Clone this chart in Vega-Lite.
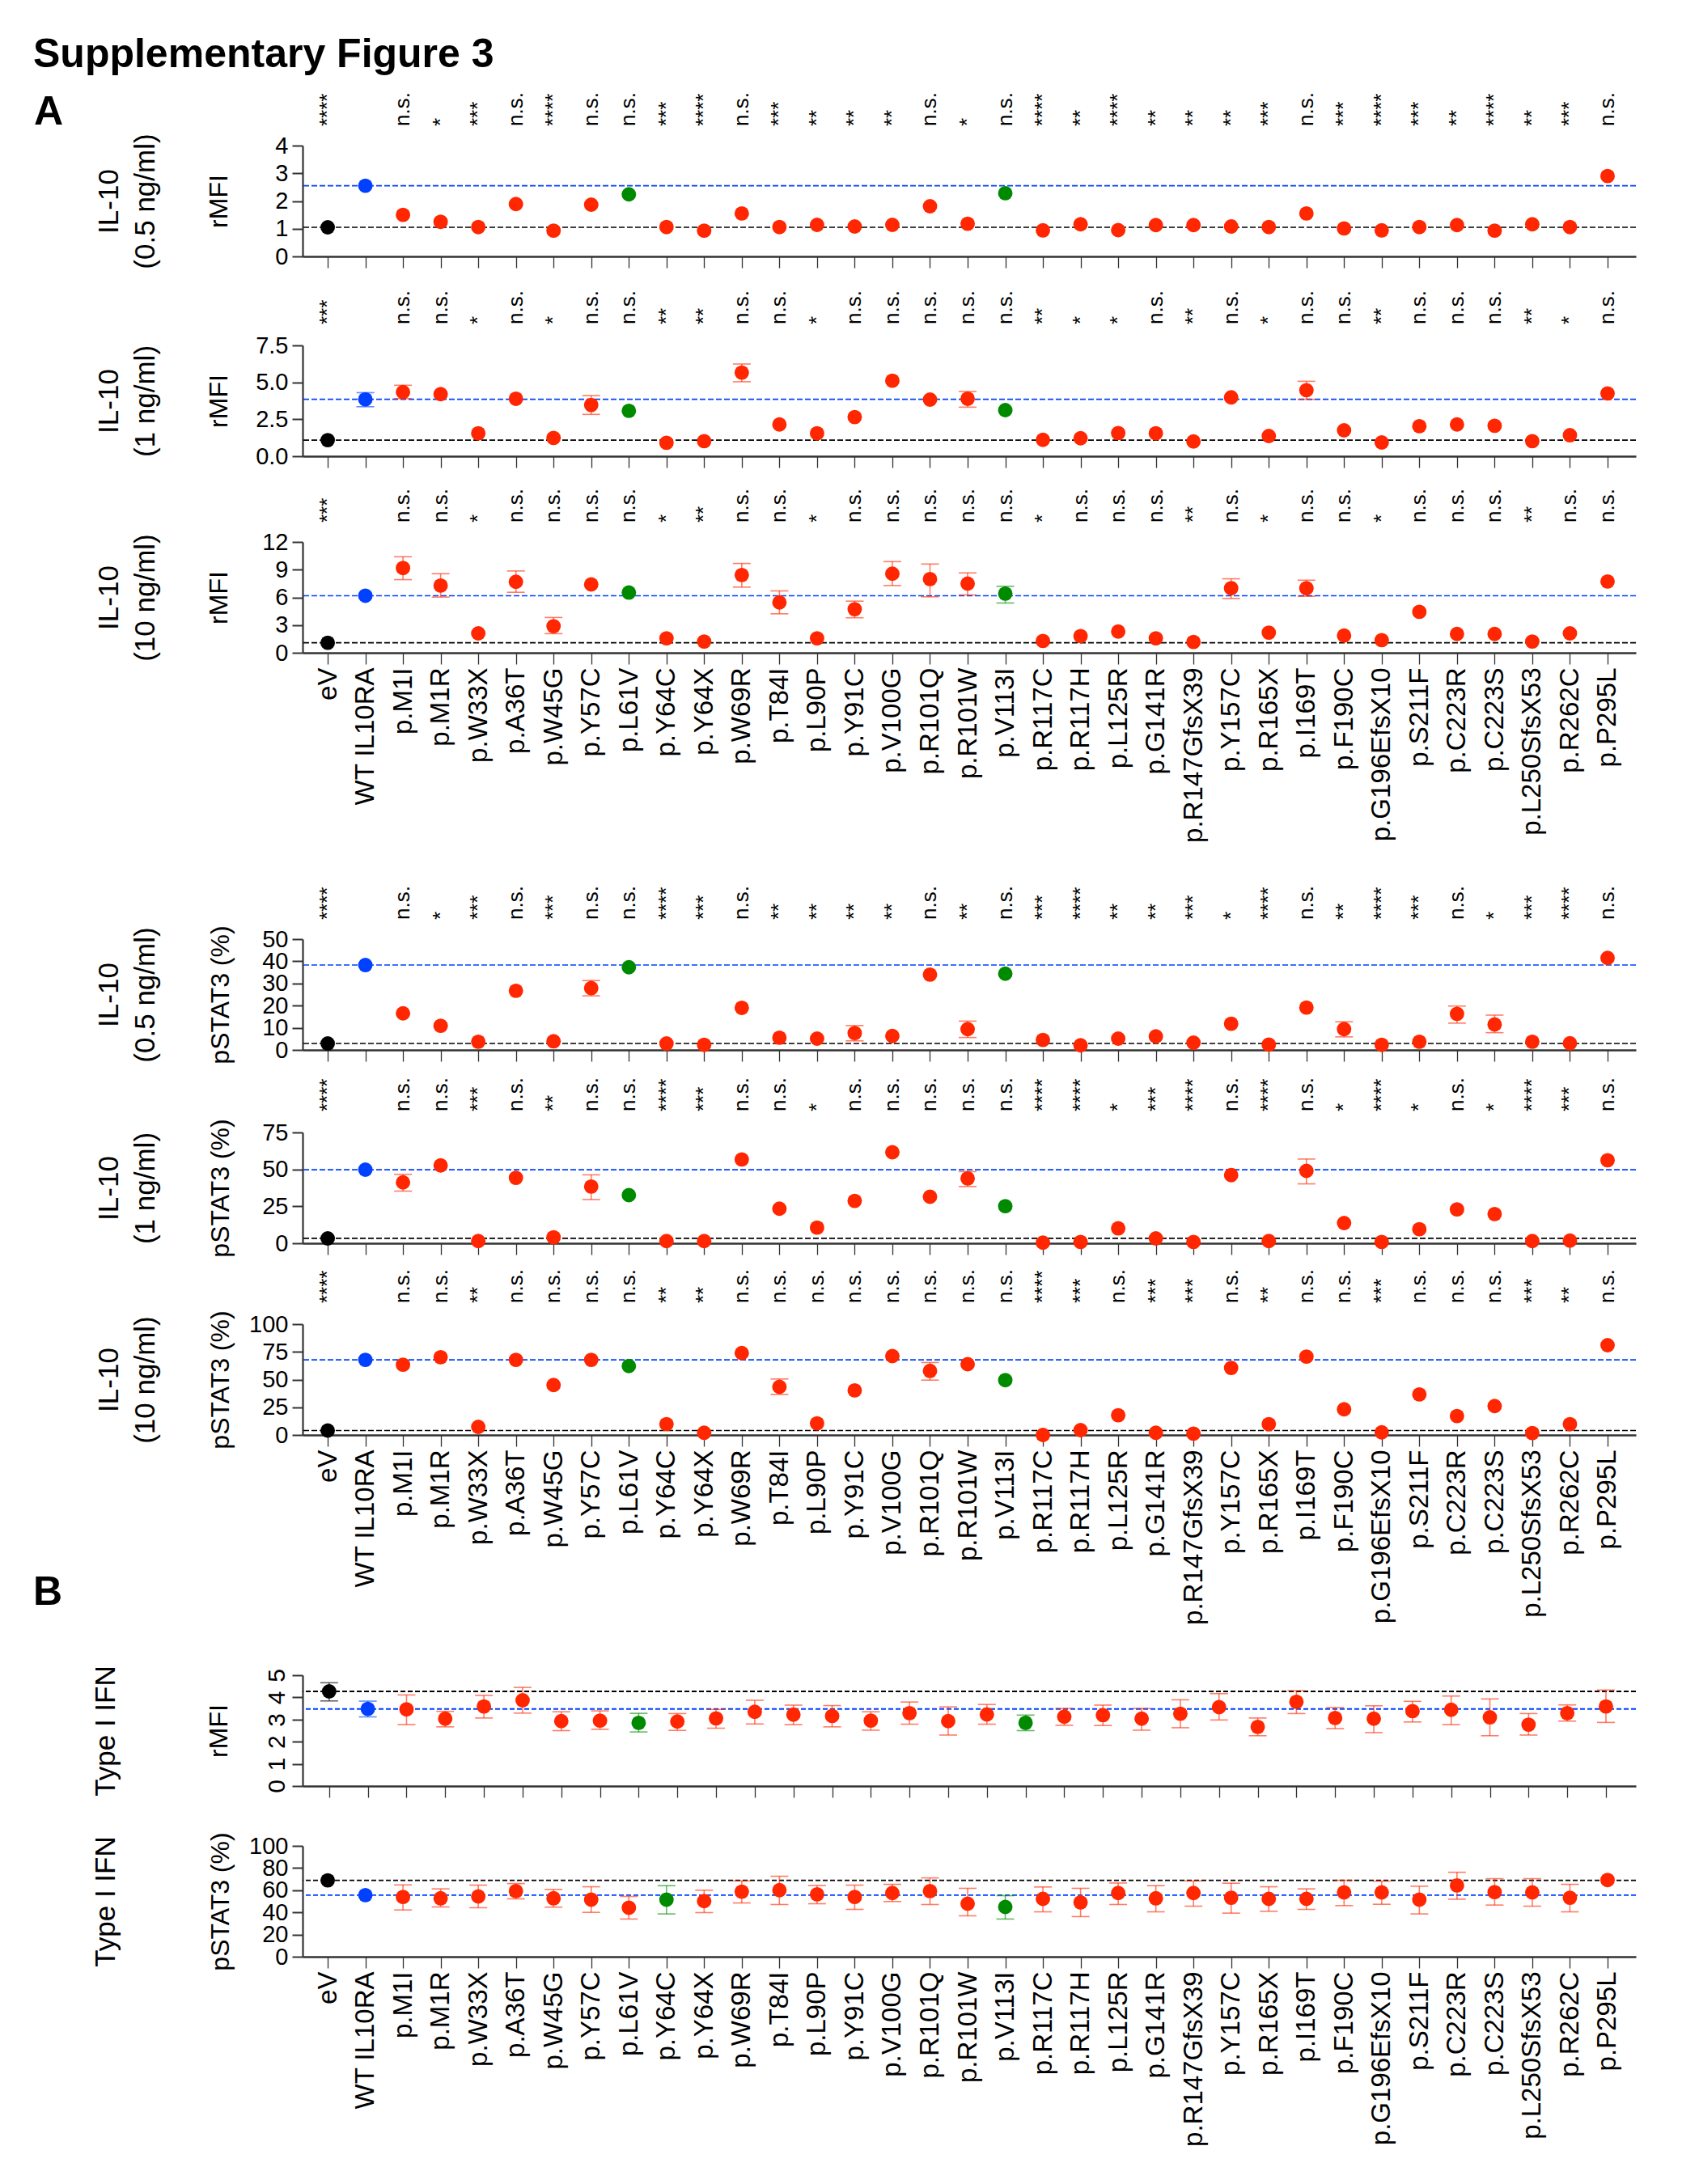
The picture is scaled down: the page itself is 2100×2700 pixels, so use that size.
{
"$schema": "https://vega.github.io/schema/vega-lite/v6.json",
"background": "white",
"padding": {"left": 40, "top": 42, "right": 10, "bottom": 10},
"bounds": "flush",
"spacing": 0,
"config": {
  "font": "Liberation Sans",
  "view": {"stroke": null},
  "axis": {"grid": false, "labelColor": "#000", "titleColor": "#000", "domainColor": "#333", "tickColor": "#333", "labelLimit": 0, "titleLimit": 0, "titleFontWeight": "normal", "labelOverlap": false},
  "axisX": {"tickSize": 14, "tickWidth": 1.3, "domainWidth": 2.6, "labelAngle": 270, "labelFontSize": 33, "labelPadding": 4},
  "axisY": {"tickSize": 13, "tickWidth": 2, "domainWidth": 2.2, "labelFontSize": 29, "labelPadding": 5}
},
"datasets": {
"P1": [
{"c":"eV","g":"eV","v":1.05,"s":"****"},
{"c":"WT IL10RA","g":"WT","v":2.55},
{"c":"p.M1I","g":"mut","v":1.5,"s":"n.s."},
{"c":"p.M1R","g":"mut","v":1.25,"s":"*"},
{"c":"p.W33X","g":"mut","v":1.06,"s":"***"},
{"c":"p.A36T","g":"mut","v":1.89,"s":"n.s."},
{"c":"p.W45G","g":"mut","v":0.93,"s":"****"},
{"c":"p.Y57C","g":"mut","v":1.87,"s":"n.s."},
{"c":"p.L61V","g":"alt","v":2.24,"s":"n.s."},
{"c":"p.Y64C","g":"mut","v":1.06,"s":"***"},
{"c":"p.Y64X","g":"mut","v":0.93,"s":"****"},
{"c":"p.W69R","g":"mut","v":1.55,"s":"n.s."},
{"c":"p.T84I","g":"mut","v":1.06,"s":"***"},
{"c":"p.L90P","g":"mut","v":1.14,"s":"**"},
{"c":"p.Y91C","g":"mut","v":1.08,"s":"**"},
{"c":"p.V100G","g":"mut","v":1.14,"s":"**"},
{"c":"p.R101Q","g":"mut","v":1.81,"s":"n.s."},
{"c":"p.R101W","g":"mut","v":1.18,"s":"*"},
{"c":"p.V113I","g":"alt","v":2.28,"s":"n.s."},
{"c":"p.R117C","g":"mut","v":0.94,"s":"****"},
{"c":"p.R117H","g":"mut","v":1.16,"s":"**"},
{"c":"p.L125R","g":"mut","v":0.95,"s":"****"},
{"c":"p.G141R","g":"mut","v":1.13,"s":"**"},
{"c":"p.R147GfsX39","g":"mut","v":1.13,"s":"**"},
{"c":"p.Y157C","g":"mut","v":1.08,"s":"**"},
{"c":"p.R165X","g":"mut","v":1.06,"s":"***"},
{"c":"p.I169T","g":"mut","v":1.55,"s":"n.s."},
{"c":"p.F190C","g":"mut","v":1.01,"s":"***"},
{"c":"p.G196EfsX10","g":"mut","v":0.94,"s":"****"},
{"c":"p.S211F","g":"mut","v":1.06,"s":"***"},
{"c":"p.C223R","g":"mut","v":1.13,"s":"**"},
{"c":"p.C223S","g":"mut","v":0.93,"s":"****"},
{"c":"p.L250SfsX53","g":"mut","v":1.16,"s":"**"},
{"c":"p.R262C","g":"mut","v":1.06,"s":"***"},
{"c":"p.P295L","g":"mut","v":2.9,"s":"n.s."}
],
"P2": [
{"c":"eV","g":"eV","v":1.09,"s":"***"},
{"c":"WT IL10RA","g":"WT","v":3.85,"lo":3.35,"hi":4.3},
{"c":"p.M1I","g":"mut","v":4.34,"s":"n.s.","lo":3.9,"hi":4.8},
{"c":"p.M1R","g":"mut","v":4.2,"s":"n.s."},
{"c":"p.W33X","g":"mut","v":1.55,"s":"*"},
{"c":"p.A36T","g":"mut","v":3.89,"s":"n.s."},
{"c":"p.W45G","g":"mut","v":1.24,"s":"*"},
{"c":"p.Y57C","g":"mut","v":3.47,"s":"n.s.","lo":2.83,"hi":4.1},
{"c":"p.L61V","g":"alt","v":3.07,"s":"n.s."},
{"c":"p.Y64C","g":"mut","v":0.91,"s":"**"},
{"c":"p.Y64X","g":"mut","v":1.02,"s":"**"},
{"c":"p.W69R","g":"mut","v":5.66,"s":"n.s.","lo":5.04,"hi":6.24},
{"c":"p.T84I","g":"mut","v":2.15,"s":"n.s."},
{"c":"p.L90P","g":"mut","v":1.55,"s":"*"},
{"c":"p.Y91C","g":"mut","v":2.65,"s":"n.s."},
{"c":"p.V100G","g":"mut","v":5.11,"s":"n.s."},
{"c":"p.R101Q","g":"mut","v":3.83,"s":"n.s."},
{"c":"p.R101W","g":"mut","v":3.89,"s":"n.s.","lo":3.32,"hi":4.38},
{"c":"p.V113I","g":"alt","v":3.12,"s":"n.s."},
{"c":"p.R117C","g":"mut","v":1.11,"s":"**"},
{"c":"p.R117H","g":"mut","v":1.22,"s":"*"},
{"c":"p.L125R","g":"mut","v":1.57,"s":"*"},
{"c":"p.G141R","g":"mut","v":1.55,"s":"n.s."},
{"c":"p.R147GfsX39","g":"mut","v":1.0,"s":"**"},
{"c":"p.Y157C","g":"mut","v":3.98,"s":"n.s."},
{"c":"p.R165X","g":"mut","v":1.37,"s":"*"},
{"c":"p.I169T","g":"mut","v":4.47,"s":"n.s.","lo":3.85,"hi":5.07},
{"c":"p.F190C","g":"mut","v":1.75,"s":"n.s."},
{"c":"p.G196EfsX10","g":"mut","v":0.93,"s":"**"},
{"c":"p.S211F","g":"mut","v":2.03,"s":"n.s."},
{"c":"p.C223R","g":"mut","v":2.15,"s":"n.s."},
{"c":"p.C223S","g":"mut","v":2.06,"s":"n.s."},
{"c":"p.L250SfsX53","g":"mut","v":1.02,"s":"**"},
{"c":"p.R262C","g":"mut","v":1.42,"s":"*"},
{"c":"p.P295L","g":"mut","v":4.25,"s":"n.s."}
],
"P3": [
{"c":"eV","g":"eV","v":1.08,"s":"***"},
{"c":"WT IL10RA","g":"WT","v":6.18},
{"c":"p.M1I","g":"mut","v":9.18,"s":"n.s.","lo":7.92,"hi":10.4},
{"c":"p.M1R","g":"mut","v":7.28,"s":"n.s.","lo":6.03,"hi":8.56},
{"c":"p.W33X","g":"mut","v":2.1,"s":"*"},
{"c":"p.A36T","g":"mut","v":7.69,"s":"n.s.","lo":6.55,"hi":8.86},
{"c":"p.W45G","g":"mut","v":2.88,"s":"n.s.","lo":2.07,"hi":3.82},
{"c":"p.Y57C","g":"mut","v":7.4,"s":"n.s."},
{"c":"p.L61V","g":"alt","v":6.52,"s":"n.s."},
{"c":"p.Y64C","g":"mut","v":1.57,"s":"*"},
{"c":"p.Y64X","g":"mut","v":1.22,"s":"**"},
{"c":"p.W69R","g":"mut","v":8.42,"s":"n.s.","lo":7.11,"hi":9.67},
{"c":"p.T84I","g":"mut","v":5.45,"s":"n.s.","lo":4.22,"hi":6.7},
{"c":"p.L90P","g":"mut","v":1.57,"s":"*"},
{"c":"p.Y91C","g":"mut","v":4.72,"s":"n.s.","lo":3.79,"hi":5.59},
{"c":"p.V100G","g":"mut","v":8.56,"s":"n.s.","lo":7.28,"hi":9.87},
{"c":"p.R101Q","g":"mut","v":7.98,"s":"n.s.","lo":6.06,"hi":9.61},
{"c":"p.R101W","g":"mut","v":7.49,"s":"n.s.","lo":6.26,"hi":8.65},
{"c":"p.V113I","g":"alt","v":6.41,"s":"n.s.","lo":5.39,"hi":7.2},
{"c":"p.R117C","g":"mut","v":1.28,"s":"*"},
{"c":"p.R117H","g":"mut","v":1.81,"s":"n.s."},
{"c":"p.L125R","g":"mut","v":2.3,"s":"n.s."},
{"c":"p.G141R","g":"mut","v":1.57,"s":"n.s."},
{"c":"p.R147GfsX39","g":"mut","v":1.17,"s":"**"},
{"c":"p.Y157C","g":"mut","v":6.99,"s":"n.s.","lo":5.88,"hi":8.01},
{"c":"p.R165X","g":"mut","v":2.18,"s":"*"},
{"c":"p.I169T","g":"mut","v":6.99,"s":"n.s.","lo":6.12,"hi":7.86},
{"c":"p.F190C","g":"mut","v":1.86,"s":"n.s."},
{"c":"p.G196EfsX10","g":"mut","v":1.37,"s":"*"},
{"c":"p.S211F","g":"mut","v":4.43,"s":"n.s."},
{"c":"p.C223R","g":"mut","v":2.04,"s":"n.s."},
{"c":"p.C223S","g":"mut","v":2.04,"s":"n.s."},
{"c":"p.L250SfsX53","g":"mut","v":1.22,"s":"**"},
{"c":"p.R262C","g":"mut","v":2.1,"s":"n.s."},
{"c":"p.P295L","g":"mut","v":7.72,"s":"n.s."}
],
"P4": [
{"c":"eV","g":"eV","v":2.9,"s":"****"},
{"c":"WT IL10RA","g":"WT","v":38.3},
{"c":"p.M1I","g":"mut","v":16.5,"s":"n.s."},
{"c":"p.M1R","g":"mut","v":10.9,"s":"*"},
{"c":"p.W33X","g":"mut","v":3.7,"s":"***"},
{"c":"p.A36T","g":"mut","v":26.7,"s":"n.s."},
{"c":"p.W45G","g":"mut","v":3.9,"s":"***"},
{"c":"p.Y57C","g":"mut","v":27.9,"s":"n.s.","lo":24.4,"hi":31.3},
{"c":"p.L61V","g":"alt","v":37.3,"s":"n.s."},
{"c":"p.Y64C","g":"mut","v":2.9,"s":"****"},
{"c":"p.Y64X","g":"mut","v":2.3,"s":"***"},
{"c":"p.W69R","g":"mut","v":19.0,"s":"n.s."},
{"c":"p.T84I","g":"mut","v":5.5,"s":"**"},
{"c":"p.L90P","g":"mut","v":5.1,"s":"**"},
{"c":"p.Y91C","g":"mut","v":7.6,"s":"**","lo":4.1,"hi":11.0},
{"c":"p.V100G","g":"mut","v":6.3,"s":"**"},
{"c":"p.R101Q","g":"mut","v":34.0,"s":"n.s."},
{"c":"p.R101W","g":"mut","v":9.4,"s":"**","lo":5.6,"hi":13.0},
{"c":"p.V113I","g":"alt","v":34.4,"s":"n.s."},
{"c":"p.R117C","g":"mut","v":4.5,"s":"***"},
{"c":"p.R117H","g":"mut","v":2.1,"s":"****"},
{"c":"p.L125R","g":"mut","v":5.1,"s":"**"},
{"c":"p.G141R","g":"mut","v":6.1,"s":"**"},
{"c":"p.R147GfsX39","g":"mut","v":3.3,"s":"***"},
{"c":"p.Y157C","g":"mut","v":11.8,"s":"*"},
{"c":"p.R165X","g":"mut","v":2.4,"s":"****"},
{"c":"p.I169T","g":"mut","v":19.1,"s":"n.s."},
{"c":"p.F190C","g":"mut","v":9.4,"s":"**","lo":5.9,"hi":12.7},
{"c":"p.G196EfsX10","g":"mut","v":2.3,"s":"****"},
{"c":"p.S211F","g":"mut","v":3.7,"s":"***"},
{"c":"p.C223R","g":"mut","v":16.3,"s":"n.s.","lo":12.1,"hi":19.8},
{"c":"p.C223S","g":"mut","v":11.5,"s":"*","lo":7.8,"hi":15.7},
{"c":"p.L250SfsX53","g":"mut","v":3.7,"s":"***"},
{"c":"p.R262C","g":"mut","v":3.0,"s":"****"},
{"c":"p.P295L","g":"mut","v":41.5,"s":"n.s."}
],
"P5": [
{"c":"eV","g":"eV","v":3.3,"s":"****"},
{"c":"WT IL10RA","g":"WT","v":49.8},
{"c":"p.M1I","g":"mut","v":41.2,"s":"n.s.","lo":35.3,"hi":46.6},
{"c":"p.M1R","g":"mut","v":52.7,"s":"n.s."},
{"c":"p.W33X","g":"mut","v":1.5,"s":"***"},
{"c":"p.A36T","g":"mut","v":44.3,"s":"n.s."},
{"c":"p.W45G","g":"mut","v":4.0,"s":"**"},
{"c":"p.Y57C","g":"mut","v":38.4,"s":"n.s.","lo":29.6,"hi":46.3},
{"c":"p.L61V","g":"alt","v":32.6,"s":"n.s."},
{"c":"p.Y64C","g":"mut","v":1.5,"s":"****"},
{"c":"p.Y64X","g":"mut","v":1.5,"s":"***"},
{"c":"p.W69R","g":"mut","v":56.7,"s":"n.s."},
{"c":"p.T84I","g":"mut","v":23.4,"s":"n.s."},
{"c":"p.L90P","g":"mut","v":10.6,"s":"*"},
{"c":"p.Y91C","g":"mut","v":28.7,"s":"n.s."},
{"c":"p.V100G","g":"mut","v":61.6,"s":"n.s."},
{"c":"p.R101Q","g":"mut","v":31.5,"s":"n.s."},
{"c":"p.R101W","g":"mut","v":43.9,"s":"n.s.","lo":38.4,"hi":48.5},
{"c":"p.V113I","g":"alt","v":25.1,"s":"n.s."},
{"c":"p.R117C","g":"mut","v":0.4,"s":"****"},
{"c":"p.R117H","g":"mut","v":0.9,"s":"****"},
{"c":"p.L125R","g":"mut","v":10.1,"s":"*"},
{"c":"p.G141R","g":"mut","v":3.3,"s":"***"},
{"c":"p.R147GfsX39","g":"mut","v":0.9,"s":"****"},
{"c":"p.Y157C","g":"mut","v":46.1,"s":"n.s."},
{"c":"p.R165X","g":"mut","v":1.5,"s":"****"},
{"c":"p.I169T","g":"mut","v":49.0,"s":"n.s.","lo":40.2,"hi":57.0},
{"c":"p.F190C","g":"mut","v":13.7,"s":"*"},
{"c":"p.G196EfsX10","g":"mut","v":0.9,"s":"****"},
{"c":"p.S211F","g":"mut","v":9.5,"s":"*"},
{"c":"p.C223R","g":"mut","v":22.9,"s":"n.s."},
{"c":"p.C223S","g":"mut","v":19.8,"s":"*"},
{"c":"p.L250SfsX53","g":"mut","v":1.5,"s":"****"},
{"c":"p.R262C","g":"mut","v":1.8,"s":"***"},
{"c":"p.P295L","g":"mut","v":56.2,"s":"n.s."}
],
"P6": [
{"c":"eV","g":"eV","v":4.0,"s":"****"},
{"c":"WT IL10RA","g":"WT","v":67.8},
{"c":"p.M1I","g":"mut","v":63.4,"s":"n.s."},
{"c":"p.M1R","g":"mut","v":70.2,"s":"n.s."},
{"c":"p.W33X","g":"mut","v":7.3,"s":"**"},
{"c":"p.A36T","g":"mut","v":67.8,"s":"n.s."},
{"c":"p.W45G","g":"mut","v":45.1,"s":"n.s."},
{"c":"p.Y57C","g":"mut","v":67.8,"s":"n.s."},
{"c":"p.L61V","g":"alt","v":62.2,"s":"n.s."},
{"c":"p.Y64C","g":"mut","v":9.8,"s":"**"},
{"c":"p.Y64X","g":"mut","v":2.0,"s":"**"},
{"c":"p.W69R","g":"mut","v":73.9,"s":"n.s."},
{"c":"p.T84I","g":"mut","v":43.4,"s":"n.s.","lo":36.6,"hi":50.5},
{"c":"p.L90P","g":"mut","v":10.5,"s":"n.s."},
{"c":"p.Y91C","g":"mut","v":40.2,"s":"n.s."},
{"c":"p.V100G","g":"mut","v":71.2,"s":"n.s."},
{"c":"p.R101Q","g":"mut","v":57.8,"s":"n.s.","lo":49.5,"hi":65.4},
{"c":"p.R101W","g":"mut","v":63.9,"s":"n.s."},
{"c":"p.V113I","g":"alt","v":49.5,"s":"n.s."},
{"c":"p.R117C","g":"mut","v":0.0,"s":"****"},
{"c":"p.R117H","g":"mut","v":4.4,"s":"***"},
{"c":"p.L125R","g":"mut","v":17.8,"s":"n.s."},
{"c":"p.G141R","g":"mut","v":2.0,"s":"***"},
{"c":"p.R147GfsX39","g":"mut","v":1.2,"s":"***"},
{"c":"p.Y157C","g":"mut","v":60.5,"s":"n.s."},
{"c":"p.R165X","g":"mut","v":9.8,"s":"**"},
{"c":"p.I169T","g":"mut","v":70.7,"s":"n.s."},
{"c":"p.F190C","g":"mut","v":23.2,"s":"n.s."},
{"c":"p.G196EfsX10","g":"mut","v":2.4,"s":"***"},
{"c":"p.S211F","g":"mut","v":36.6,"s":"n.s."},
{"c":"p.C223R","g":"mut","v":17.1,"s":"n.s."},
{"c":"p.C223S","g":"mut","v":26.1,"s":"n.s."},
{"c":"p.L250SfsX53","g":"mut","v":1.7,"s":"***"},
{"c":"p.R262C","g":"mut","v":9.8,"s":"**"},
{"c":"p.P295L","g":"mut","v":81.0,"s":"n.s."}
],
"B1": [
{"c":"eV","g":"eV","v":4.27,"lo":3.84,"hi":4.66},
{"c":"WT IL10RA","g":"WT","v":3.48,"lo":3.12,"hi":3.83},
{"c":"p.M1I","g":"mut","v":3.46,"lo":2.77,"hi":4.11},
{"c":"p.M1R","g":"mut","v":3.04,"lo":2.67,"hi":3.37},
{"c":"p.W33X","g":"mut","v":3.59,"lo":3.07,"hi":4.09},
{"c":"p.A36T","g":"mut","v":3.87,"lo":3.29,"hi":4.45},
{"c":"p.W45G","g":"mut","v":2.93,"lo":2.5,"hi":3.35},
{"c":"p.Y57C","g":"mut","v":2.95,"lo":2.56,"hi":3.39},
{"c":"p.L61V","g":"alt","v":2.85,"lo":2.44,"hi":3.28},
{"c":"p.Y64C","g":"mut","v":2.91,"lo":2.51,"hi":3.27},
{"c":"p.Y64X","g":"mut","v":3.05,"lo":2.61,"hi":3.46},
{"c":"p.W69R","g":"mut","v":3.35,"lo":2.8,"hi":3.87},
{"c":"p.T84I","g":"mut","v":3.22,"lo":2.77,"hi":3.65},
{"c":"p.L90P","g":"mut","v":3.16,"lo":2.67,"hi":3.63},
{"c":"p.Y91C","g":"mut","v":2.95,"lo":2.52,"hi":3.35},
{"c":"p.V100G","g":"mut","v":3.29,"lo":2.79,"hi":3.79},
{"c":"p.R101Q","g":"mut","v":2.93,"lo":2.3,"hi":3.57},
{"c":"p.R101W","g":"mut","v":3.23,"lo":2.79,"hi":3.68},
{"c":"p.V113I","g":"alt","v":2.85,"lo":2.5,"hi":3.2},
{"c":"p.R117C","g":"mut","v":3.13,"lo":2.74,"hi":3.5},
{"c":"p.R117H","g":"mut","v":3.2,"lo":2.73,"hi":3.65},
{"c":"p.L125R","g":"mut","v":3.04,"lo":2.52,"hi":3.5},
{"c":"p.G141R","g":"mut","v":3.26,"lo":2.63,"hi":3.89},
{"c":"p.R147GfsX39","g":"mut","v":3.56,"lo":2.98,"hi":4.17},
{"c":"p.Y157C","g":"mut","v":2.67,"lo":2.27,"hi":3.07},
{"c":"p.R165X","g":"mut","v":3.8,"lo":3.27,"hi":4.3},
{"c":"p.I169T","g":"mut","v":3.07,"lo":2.59,"hi":3.54},
{"c":"p.F190C","g":"mut","v":3.04,"lo":2.41,"hi":3.62},
{"c":"p.G196EfsX10","g":"mut","v":3.38,"lo":2.89,"hi":3.82},
{"c":"p.S211F","g":"mut","v":3.44,"lo":2.77,"hi":4.06},
{"c":"p.C223R","g":"mut","v":3.1,"lo":2.27,"hi":3.93},
{"c":"p.C223S","g":"mut","v":2.77,"lo":2.3,"hi":3.27},
{"c":"p.L250SfsX53","g":"mut","v":3.29,"lo":2.93,"hi":3.66},
{"c":"p.P295L","g":"mut","v":3.59,"lo":2.87,"hi":4.33}
],
"B2": [
{"c":"eV","g":"eV","v":68.9},
{"c":"WT IL10RA","g":"WT","v":55.6},
{"c":"p.M1I","g":"mut","v":53.9,"lo":42.2,"hi":64.8},
{"c":"p.M1R","g":"mut","v":52.7,"lo":44.9,"hi":61.2},
{"c":"p.W33X","g":"mut","v":54.4,"lo":44.2,"hi":64.6},
{"c":"p.A36T","g":"mut","v":59.2,"lo":52.2,"hi":66.0},
{"c":"p.W45G","g":"mut","v":52.7,"lo":44.7,"hi":60.7},
{"c":"p.Y57C","g":"mut","v":51.5,"lo":40.0,"hi":63.1},
{"c":"p.L61V","g":"mut","v":44.2,"lo":34.0,"hi":54.4},
{"c":"p.Y64C","g":"alt","v":51.5,"lo":38.6,"hi":64.1},
{"c":"p.Y64X","g":"mut","v":50.2,"lo":39.8,"hi":60.0},
{"c":"p.W69R","g":"mut","v":58.7,"lo":48.5,"hi":68.4},
{"c":"p.T84I","g":"mut","v":60.0,"lo":47.1,"hi":72.6},
{"c":"p.L90P","g":"mut","v":56.3,"lo":47.8,"hi":64.3},
{"c":"p.Y91C","g":"mut","v":53.9,"lo":42.7,"hi":64.6},
{"c":"p.V100G","g":"mut","v":57.5,"lo":49.8,"hi":65.3},
{"c":"p.R101Q","g":"mut","v":59.2,"lo":47.1,"hi":71.1},
{"c":"p.R101W","g":"mut","v":47.8,"lo":36.9,"hi":61.7},
{"c":"p.V113I","g":"alt","v":44.9,"lo":34.0,"hi":55.1},
{"c":"p.R117C","g":"mut","v":52.2,"lo":40.5,"hi":62.9},
{"c":"p.R117H","g":"mut","v":49.0,"lo":36.2,"hi":61.7},
{"c":"p.L125R","g":"mut","v":57.5,"lo":47.1,"hi":66.5},
{"c":"p.G141R","g":"mut","v":52.7,"lo":40.5,"hi":64.1},
{"c":"p.R147GfsX39","g":"mut","v":57.5,"lo":45.6,"hi":68.4},
{"c":"p.Y157C","g":"mut","v":53.2,"lo":39.3,"hi":66.3},
{"c":"p.R165X","g":"mut","v":52.2,"lo":41.0,"hi":63.1},
{"c":"p.I169T","g":"mut","v":52.2,"lo":42.7,"hi":61.2},
{"c":"p.F190C","g":"mut","v":58.0,"lo":46.1,"hi":68.9},
{"c":"p.G196EfsX10","g":"mut","v":58.0,"lo":47.3,"hi":68.2},
{"c":"p.S211F","g":"mut","v":51.5,"lo":38.6,"hi":63.6},
{"c":"p.C223R","g":"mut","v":64.3,"lo":51.9,"hi":76.2},
{"c":"p.C223S","g":"mut","v":58.3,"lo":46.6,"hi":70.4},
{"c":"p.L250SfsX53","g":"mut","v":58.0,"lo":45.6,"hi":70.4},
{"c":"p.R262C","g":"mut","v":53.2,"lo":40.5,"hi":65.3},
{"c":"p.P295L","g":"mut","v":69.2}
]
},
"vconcat": [
{
 "width": 1648, "height": 137,
 "data": {"name": "P1"},
 "resolve": {"axis": {"x": "independent", "y": "independent"}},
 "layer": [
  {"transform": [{"filter": "datum.g == 'eV' || datum.g == 'WT'"}],
   "mark": {"type": "rule", "strokeDash": [7, 3], "strokeWidth": 1.6},
   "encoding": {
    "y": {"field": "v", "type": "quantitative", "scale": {"domain": [0, 4], "nice": false},
          "axis": {"orient": "left", "labels": false, "ticks": false, "domain": false, "title": ["IL-10", "(0.5 ng/ml)"], "titleX": -228.5, "titleY": 68.5, "titleAngle": 270, "titleAlign": "center", "titleBaseline": "alphabetic", "titleFontSize": 35, "titleLineHeight": 45}},
    "color": {"field": "g", "type": "nominal", "scale": {"domain": ["eV", "WT", "mut", "alt"], "range": ["#000000", "#0040ff", "#ff2600", "#008a00"]}, "legend": null}}},
  {"transform": [{"filter": "isValid(datum.lo)"}],
   "mark": {"type": "rule", "strokeWidth": 1.6, "opacity": 0.6},
   "encoding": {
    "x": {"field": "c", "type": "nominal", "scale": {"type": "point"}, "axis": null},
    "y": {"field": "lo", "type": "quantitative", "scale": {"domain": [0, 4], "nice": false},
          "axis": {"orient": "left", "labels": false, "ticks": false, "domain": false, "title": "A", "titleX": -332.5, "titleY": -27, "titleAngle": 0, "titleAlign": "left", "titleBaseline": "alphabetic", "titleFontSize": 50, "titleFontWeight": "bold"}},
    "y2": {"field": "hi"},
    "color": {"field": "g", "type": "nominal", "scale": {"domain": ["eV", "WT", "mut", "alt"], "range": ["#000000", "#0040ff", "#ff2600", "#008a00"]}, "legend": null}}},
  {"transform": [{"filter": "isValid(datum.lo)"}, {"fold": ["lo", "hi"], "as": ["k", "e"]}],
   "mark": {"type": "tick", "thickness": 1.6, "size": 22, "opacity": 0.6},
   "encoding": {
    "x": {"field": "c", "type": "nominal", "scale": {"type": "point"}, "axis": null},
    "y": {"field": "e", "type": "quantitative", "scale": {"domain": [0, 4], "nice": false},
          "axis": {"orient": "left", "labels": false, "ticks": false, "domain": false, "title": "Supplementary Figure 3", "titleX": -333.5, "titleY": -98, "titleAngle": 0, "titleAlign": "left", "titleBaseline": "alphabetic", "titleFontSize": 50, "titleFontWeight": "bold"}},
    "color": {"field": "g", "type": "nominal", "scale": {"domain": ["eV", "WT", "mut", "alt"], "range": ["#000000", "#0040ff", "#ff2600", "#008a00"]}, "legend": null}}},
  {"mark": {"type": "circle", "size": 320, "opacity": 1},
   "encoding": {
    "x": {"field": "c", "type": "nominal", "scale": {"type": "point", "padding": 0.71, "align": 0.47, "domain": ["eV","WT IL10RA","p.M1I","p.M1R","p.W33X","p.A36T","p.W45G","p.Y57C","p.L61V","p.Y64C","p.Y64X","p.W69R","p.T84I","p.L90P","p.Y91C","p.V100G","p.R101Q","p.R101W","p.V113I","p.R117C","p.R117H","p.L125R","p.G141R","p.R147GfsX39","p.Y157C","p.R165X","p.I169T","p.F190C","p.G196EfsX10","p.S211F","p.C223R","p.C223S","p.L250SfsX53","p.R262C","p.P295L"]},
          "axis": {"orient": "bottom", "title": null, "labels": false}},
    "y": {"field": "v", "type": "quantitative", "scale": {"domain": [0, 4], "nice": false},
          "axis": {"orient": "left", "title": "rMFI", "titleX": -94, "titleY": 68.5, "titleAngle": 270, "titleAlign": "center", "titleBaseline": "alphabetic", "titleFontSize": 32, "values": [0, 1, 2, 3, 4], "format": "d"}},
    "color": {"field": "g", "type": "nominal", "scale": {"domain": ["eV", "WT", "mut", "alt"], "range": ["#000000", "#0040ff", "#ff2600", "#008a00"]}, "legend": null}}},
  {"transform": [{"filter": "isValid(datum.s)"}],
   "mark": {"type": "text", "angle": 270, "align": "left", "baseline": "middle", "dx": 24, "fontSize": 26, "color": "#000"},
   "encoding": {
    "x": {"field": "c", "type": "nominal", "scale": {"type": "point"}, "axis": null},
    "y": {"datum": 4, "type": "quantitative", "scale": {"domain": [0, 4], "nice": false}, "axis": null},
    "text": {"field": "s"}}}
 ]
},
{"width": 1648, "height": 110, "data": {"values": [{}]}, "mark": {"type": "text", "text": ""}},
{
 "width": 1648, "height": 137,
 "data": {"name": "P2"},
 "resolve": {"axis": {"x": "independent", "y": "independent"}},
 "layer": [
  {"transform": [{"filter": "datum.g == 'eV' || datum.g == 'WT'"}],
   "mark": {"type": "rule", "strokeDash": [7, 3], "strokeWidth": 1.8},
   "encoding": {
    "y": {"field": "v", "type": "quantitative", "scale": {"domain": [0, 7.5], "nice": false},
          "axis": {"orient": "left", "labels": false, "ticks": false, "domain": false, "title": ["IL-10", "(1 ng/ml)"], "titleX": -228.5, "titleY": 68.5, "titleAngle": 270, "titleAlign": "center", "titleBaseline": "alphabetic", "titleFontSize": 35, "titleLineHeight": 45}},
    "color": {"field": "g", "type": "nominal", "scale": {"domain": ["eV", "WT", "mut", "alt"], "range": ["#000000", "#0040ff", "#ff2600", "#008a00"]}, "legend": null}}},
  {"transform": [{"filter": "isValid(datum.lo)"}],
   "mark": {"type": "rule", "strokeWidth": 1.6, "opacity": 0.6},
   "encoding": {
    "x": {"field": "c", "type": "nominal", "scale": {"type": "point"}, "axis": null},
    "y": {"field": "lo", "type": "quantitative", "scale": {"domain": [0, 7.5], "nice": false}, "axis": null},
    "y2": {"field": "hi"},
    "color": {"field": "g", "type": "nominal", "scale": {"domain": ["eV", "WT", "mut", "alt"], "range": ["#000000", "#0040ff", "#ff2600", "#008a00"]}, "legend": null}}},
  {"transform": [{"filter": "isValid(datum.lo)"}, {"fold": ["lo", "hi"], "as": ["k", "e"]}],
   "mark": {"type": "tick", "thickness": 1.6, "size": 22, "opacity": 0.6},
   "encoding": {
    "x": {"field": "c", "type": "nominal", "scale": {"type": "point"}, "axis": null},
    "y": {"field": "e", "type": "quantitative", "scale": {"domain": [0, 7.5], "nice": false}, "axis": null},
    "color": {"field": "g", "type": "nominal", "scale": {"domain": ["eV", "WT", "mut", "alt"], "range": ["#000000", "#0040ff", "#ff2600", "#008a00"]}, "legend": null}}},
  {"mark": {"type": "circle", "size": 320, "opacity": 1},
   "encoding": {
    "x": {"field": "c", "type": "nominal", "scale": {"type": "point", "padding": 0.71, "align": 0.47, "domain": ["eV","WT IL10RA","p.M1I","p.M1R","p.W33X","p.A36T","p.W45G","p.Y57C","p.L61V","p.Y64C","p.Y64X","p.W69R","p.T84I","p.L90P","p.Y91C","p.V100G","p.R101Q","p.R101W","p.V113I","p.R117C","p.R117H","p.L125R","p.G141R","p.R147GfsX39","p.Y157C","p.R165X","p.I169T","p.F190C","p.G196EfsX10","p.S211F","p.C223R","p.C223S","p.L250SfsX53","p.R262C","p.P295L"]},
          "axis": {"orient": "bottom", "title": null, "labels": false}},
    "y": {"field": "v", "type": "quantitative", "scale": {"domain": [0, 7.5], "nice": false},
          "axis": {"orient": "left", "title": "rMFI", "titleX": -94, "titleY": 68.5, "titleAngle": 270, "titleAlign": "center", "titleBaseline": "alphabetic", "titleFontSize": 32, "values": [0, 2.5, 5, 7.5], "format": ".1f"}},
    "color": {"field": "g", "type": "nominal", "scale": {"domain": ["eV", "WT", "mut", "alt"], "range": ["#000000", "#0040ff", "#ff2600", "#008a00"]}, "legend": null}}},
  {"transform": [{"filter": "isValid(datum.s)"}],
   "mark": {"type": "text", "angle": 270, "align": "left", "baseline": "middle", "dx": 26, "fontSize": 26, "color": "#000"},
   "encoding": {
    "x": {"field": "c", "type": "nominal", "scale": {"type": "point"}, "axis": null},
    "y": {"datum": 7.5, "type": "quantitative", "scale": {"domain": [0, 7.5], "nice": false}, "axis": null},
    "text": {"field": "s"}}}
 ]
},
{"width": 1648, "height": 106, "data": {"values": [{}]}, "mark": {"type": "text", "text": ""}},
{
 "width": 1648, "height": 137,
 "data": {"name": "P3"},
 "resolve": {"axis": {"x": "independent", "y": "independent"}},
 "layer": [
  {"transform": [{"filter": "datum.g == 'eV' || datum.g == 'WT'"}],
   "mark": {"type": "rule", "strokeDash": [7, 3], "strokeWidth": 1.6},
   "encoding": {
    "y": {"field": "v", "type": "quantitative", "scale": {"domain": [0, 12], "nice": false},
          "axis": {"orient": "left", "labels": false, "ticks": false, "domain": false, "title": ["IL-10", "(10 ng/ml)"], "titleX": -228.5, "titleY": 68.5, "titleAngle": 270, "titleAlign": "center", "titleBaseline": "alphabetic", "titleFontSize": 35, "titleLineHeight": 45}},
    "color": {"field": "g", "type": "nominal", "scale": {"domain": ["eV", "WT", "mut", "alt"], "range": ["#000000", "#0040ff", "#ff2600", "#008a00"]}, "legend": null}}},
  {"transform": [{"filter": "isValid(datum.lo)"}],
   "mark": {"type": "rule", "strokeWidth": 1.6, "opacity": 0.6},
   "encoding": {
    "x": {"field": "c", "type": "nominal", "scale": {"type": "point"}, "axis": null},
    "y": {"field": "lo", "type": "quantitative", "scale": {"domain": [0, 12], "nice": false}, "axis": null},
    "y2": {"field": "hi"},
    "color": {"field": "g", "type": "nominal", "scale": {"domain": ["eV", "WT", "mut", "alt"], "range": ["#000000", "#0040ff", "#ff2600", "#008a00"]}, "legend": null}}},
  {"transform": [{"filter": "isValid(datum.lo)"}, {"fold": ["lo", "hi"], "as": ["k", "e"]}],
   "mark": {"type": "tick", "thickness": 1.6, "size": 22, "opacity": 0.6},
   "encoding": {
    "x": {"field": "c", "type": "nominal", "scale": {"type": "point"}, "axis": null},
    "y": {"field": "e", "type": "quantitative", "scale": {"domain": [0, 12], "nice": false}, "axis": null},
    "color": {"field": "g", "type": "nominal", "scale": {"domain": ["eV", "WT", "mut", "alt"], "range": ["#000000", "#0040ff", "#ff2600", "#008a00"]}, "legend": null}}},
  {"mark": {"type": "circle", "size": 320, "opacity": 1},
   "encoding": {
    "x": {"field": "c", "type": "nominal", "scale": {"type": "point", "padding": 0.71, "align": 0.47, "domain": ["eV","WT IL10RA","p.M1I","p.M1R","p.W33X","p.A36T","p.W45G","p.Y57C","p.L61V","p.Y64C","p.Y64X","p.W69R","p.T84I","p.L90P","p.Y91C","p.V100G","p.R101Q","p.R101W","p.V113I","p.R117C","p.R117H","p.L125R","p.G141R","p.R147GfsX39","p.Y157C","p.R165X","p.I169T","p.F190C","p.G196EfsX10","p.S211F","p.C223R","p.C223S","p.L250SfsX53","p.R262C","p.P295L"]},
          "axis": {"orient": "bottom", "title": null, "labels": true}},
    "y": {"field": "v", "type": "quantitative", "scale": {"domain": [0, 12], "nice": false},
          "axis": {"orient": "left", "title": "rMFI", "titleX": -94, "titleY": 68.5, "titleAngle": 270, "titleAlign": "center", "titleBaseline": "alphabetic", "titleFontSize": 32, "values": [0, 3, 6, 9, 12], "format": "d"}},
    "color": {"field": "g", "type": "nominal", "scale": {"domain": ["eV", "WT", "mut", "alt"], "range": ["#000000", "#0040ff", "#ff2600", "#008a00"]}, "legend": null}}},
  {"transform": [{"filter": "isValid(datum.s)"}],
   "mark": {"type": "text", "angle": 270, "align": "left", "baseline": "middle", "dx": 24, "fontSize": 26, "color": "#000"},
   "encoding": {
    "x": {"field": "c", "type": "nominal", "scale": {"type": "point"}, "axis": null},
    "y": {"datum": 12, "type": "quantitative", "scale": {"domain": [0, 12], "nice": false}, "axis": null},
    "text": {"field": "s"}}}
 ]
},
{"width": 1648, "height": 354, "data": {"values": [{}]}, "mark": {"type": "text", "text": ""}},
{
 "width": 1648, "height": 137,
 "data": {"name": "P4"},
 "resolve": {"axis": {"x": "independent", "y": "independent"}},
 "layer": [
  {"transform": [{"filter": "datum.g == 'eV' || datum.g == 'WT'"}],
   "mark": {"type": "rule", "strokeDash": [7, 3], "strokeWidth": 1.6},
   "encoding": {
    "y": {"field": "v", "type": "quantitative", "scale": {"domain": [0, 50], "nice": false},
          "axis": {"orient": "left", "labels": false, "ticks": false, "domain": false, "title": ["IL-10", "(0.5 ng/ml)"], "titleX": -228.5, "titleY": 68.5, "titleAngle": 270, "titleAlign": "center", "titleBaseline": "alphabetic", "titleFontSize": 35, "titleLineHeight": 45}},
    "color": {"field": "g", "type": "nominal", "scale": {"domain": ["eV", "WT", "mut", "alt"], "range": ["#000000", "#0040ff", "#ff2600", "#008a00"]}, "legend": null}}},
  {"transform": [{"filter": "isValid(datum.lo)"}],
   "mark": {"type": "rule", "strokeWidth": 1.6, "opacity": 0.6},
   "encoding": {
    "x": {"field": "c", "type": "nominal", "scale": {"type": "point"}, "axis": null},
    "y": {"field": "lo", "type": "quantitative", "scale": {"domain": [0, 50], "nice": false}, "axis": null},
    "y2": {"field": "hi"},
    "color": {"field": "g", "type": "nominal", "scale": {"domain": ["eV", "WT", "mut", "alt"], "range": ["#000000", "#0040ff", "#ff2600", "#008a00"]}, "legend": null}}},
  {"transform": [{"filter": "isValid(datum.lo)"}, {"fold": ["lo", "hi"], "as": ["k", "e"]}],
   "mark": {"type": "tick", "thickness": 1.6, "size": 22, "opacity": 0.6},
   "encoding": {
    "x": {"field": "c", "type": "nominal", "scale": {"type": "point"}, "axis": null},
    "y": {"field": "e", "type": "quantitative", "scale": {"domain": [0, 50], "nice": false}, "axis": null},
    "color": {"field": "g", "type": "nominal", "scale": {"domain": ["eV", "WT", "mut", "alt"], "range": ["#000000", "#0040ff", "#ff2600", "#008a00"]}, "legend": null}}},
  {"mark": {"type": "circle", "size": 320, "opacity": 1},
   "encoding": {
    "x": {"field": "c", "type": "nominal", "scale": {"type": "point", "padding": 0.71, "align": 0.47, "domain": ["eV","WT IL10RA","p.M1I","p.M1R","p.W33X","p.A36T","p.W45G","p.Y57C","p.L61V","p.Y64C","p.Y64X","p.W69R","p.T84I","p.L90P","p.Y91C","p.V100G","p.R101Q","p.R101W","p.V113I","p.R117C","p.R117H","p.L125R","p.G141R","p.R147GfsX39","p.Y157C","p.R165X","p.I169T","p.F190C","p.G196EfsX10","p.S211F","p.C223R","p.C223S","p.L250SfsX53","p.R262C","p.P295L"]},
          "axis": {"orient": "bottom", "title": null, "labels": false}},
    "y": {"field": "v", "type": "quantitative", "scale": {"domain": [0, 50], "nice": false},
          "axis": {"orient": "left", "title": "pSTAT3 (%)", "titleX": -92, "titleY": 68.5, "titleAngle": 270, "titleAlign": "center", "titleBaseline": "alphabetic", "titleFontSize": 32, "values": [0, 10, 20, 30, 40, 50], "format": "d"}},
    "color": {"field": "g", "type": "nominal", "scale": {"domain": ["eV", "WT", "mut", "alt"], "range": ["#000000", "#0040ff", "#ff2600", "#008a00"]}, "legend": null}}},
  {"transform": [{"filter": "isValid(datum.s)"}],
   "mark": {"type": "text", "angle": 270, "align": "left", "baseline": "middle", "dx": 24, "fontSize": 26, "color": "#000"},
   "encoding": {
    "x": {"field": "c", "type": "nominal", "scale": {"type": "point"}, "axis": null},
    "y": {"datum": 50, "type": "quantitative", "scale": {"domain": [0, 50], "nice": false}, "axis": null},
    "text": {"field": "s"}}}
 ]
},
{"width": 1648, "height": 102, "data": {"values": [{}]}, "mark": {"type": "text", "text": ""}},
{
 "width": 1648, "height": 137,
 "data": {"name": "P5"},
 "resolve": {"axis": {"x": "independent", "y": "independent"}},
 "layer": [
  {"transform": [{"filter": "datum.g == 'eV' || datum.g == 'WT'"}],
   "mark": {"type": "rule", "strokeDash": [7, 3], "strokeWidth": 1.8},
   "encoding": {
    "y": {"field": "v", "type": "quantitative", "scale": {"domain": [0, 75], "nice": false},
          "axis": {"orient": "left", "labels": false, "ticks": false, "domain": false, "title": ["IL-10", "(1 ng/ml)"], "titleX": -228.5, "titleY": 68.5, "titleAngle": 270, "titleAlign": "center", "titleBaseline": "alphabetic", "titleFontSize": 35, "titleLineHeight": 45}},
    "color": {"field": "g", "type": "nominal", "scale": {"domain": ["eV", "WT", "mut", "alt"], "range": ["#000000", "#0040ff", "#ff2600", "#008a00"]}, "legend": null}}},
  {"transform": [{"filter": "isValid(datum.lo)"}],
   "mark": {"type": "rule", "strokeWidth": 1.6, "opacity": 0.6},
   "encoding": {
    "x": {"field": "c", "type": "nominal", "scale": {"type": "point"}, "axis": null},
    "y": {"field": "lo", "type": "quantitative", "scale": {"domain": [0, 75], "nice": false}, "axis": null},
    "y2": {"field": "hi"},
    "color": {"field": "g", "type": "nominal", "scale": {"domain": ["eV", "WT", "mut", "alt"], "range": ["#000000", "#0040ff", "#ff2600", "#008a00"]}, "legend": null}}},
  {"transform": [{"filter": "isValid(datum.lo)"}, {"fold": ["lo", "hi"], "as": ["k", "e"]}],
   "mark": {"type": "tick", "thickness": 1.6, "size": 22, "opacity": 0.6},
   "encoding": {
    "x": {"field": "c", "type": "nominal", "scale": {"type": "point"}, "axis": null},
    "y": {"field": "e", "type": "quantitative", "scale": {"domain": [0, 75], "nice": false}, "axis": null},
    "color": {"field": "g", "type": "nominal", "scale": {"domain": ["eV", "WT", "mut", "alt"], "range": ["#000000", "#0040ff", "#ff2600", "#008a00"]}, "legend": null}}},
  {"mark": {"type": "circle", "size": 320, "opacity": 1},
   "encoding": {
    "x": {"field": "c", "type": "nominal", "scale": {"type": "point", "padding": 0.71, "align": 0.47, "domain": ["eV","WT IL10RA","p.M1I","p.M1R","p.W33X","p.A36T","p.W45G","p.Y57C","p.L61V","p.Y64C","p.Y64X","p.W69R","p.T84I","p.L90P","p.Y91C","p.V100G","p.R101Q","p.R101W","p.V113I","p.R117C","p.R117H","p.L125R","p.G141R","p.R147GfsX39","p.Y157C","p.R165X","p.I169T","p.F190C","p.G196EfsX10","p.S211F","p.C223R","p.C223S","p.L250SfsX53","p.R262C","p.P295L"]},
          "axis": {"orient": "bottom", "title": null, "labels": false}},
    "y": {"field": "v", "type": "quantitative", "scale": {"domain": [0, 75], "nice": false},
          "axis": {"orient": "left", "title": "pSTAT3 (%)", "titleX": -92, "titleY": 68.5, "titleAngle": 270, "titleAlign": "center", "titleBaseline": "alphabetic", "titleFontSize": 32, "values": [0, 25, 50, 75], "format": "d"}},
    "color": {"field": "g", "type": "nominal", "scale": {"domain": ["eV", "WT", "mut", "alt"], "range": ["#000000", "#0040ff", "#ff2600", "#008a00"]}, "legend": null}}},
  {"transform": [{"filter": "isValid(datum.s)"}],
   "mark": {"type": "text", "angle": 270, "align": "left", "baseline": "middle", "dx": 26, "fontSize": 26, "color": "#000"},
   "encoding": {
    "x": {"field": "c", "type": "nominal", "scale": {"type": "point"}, "axis": null},
    "y": {"datum": 75, "type": "quantitative", "scale": {"domain": [0, 75], "nice": false}, "axis": null},
    "text": {"field": "s"}}}
 ]
},
{"width": 1648, "height": 100, "data": {"values": [{}]}, "mark": {"type": "text", "text": ""}},
{
 "width": 1648, "height": 137,
 "data": {"name": "P6"},
 "resolve": {"axis": {"x": "independent", "y": "independent"}},
 "layer": [
  {"transform": [{"filter": "datum.g == 'eV' || datum.g == 'WT'"}],
   "mark": {"type": "rule", "strokeDash": [7, 3], "strokeWidth": 1.6},
   "encoding": {
    "y": {"field": "v", "type": "quantitative", "scale": {"domain": [0, 100], "nice": false},
          "axis": {"orient": "left", "labels": false, "ticks": false, "domain": false, "title": ["IL-10", "(10 ng/ml)"], "titleX": -228.5, "titleY": 68.5, "titleAngle": 270, "titleAlign": "center", "titleBaseline": "alphabetic", "titleFontSize": 35, "titleLineHeight": 45}},
    "color": {"field": "g", "type": "nominal", "scale": {"domain": ["eV", "WT", "mut", "alt"], "range": ["#000000", "#0040ff", "#ff2600", "#008a00"]}, "legend": null}}},
  {"transform": [{"filter": "isValid(datum.lo)"}],
   "mark": {"type": "rule", "strokeWidth": 1.6, "opacity": 0.6},
   "encoding": {
    "x": {"field": "c", "type": "nominal", "scale": {"type": "point"}, "axis": null},
    "y": {"field": "lo", "type": "quantitative", "scale": {"domain": [0, 100], "nice": false}, "axis": null},
    "y2": {"field": "hi"},
    "color": {"field": "g", "type": "nominal", "scale": {"domain": ["eV", "WT", "mut", "alt"], "range": ["#000000", "#0040ff", "#ff2600", "#008a00"]}, "legend": null}}},
  {"transform": [{"filter": "isValid(datum.lo)"}, {"fold": ["lo", "hi"], "as": ["k", "e"]}],
   "mark": {"type": "tick", "thickness": 1.6, "size": 22, "opacity": 0.6},
   "encoding": {
    "x": {"field": "c", "type": "nominal", "scale": {"type": "point"}, "axis": null},
    "y": {"field": "e", "type": "quantitative", "scale": {"domain": [0, 100], "nice": false}, "axis": null},
    "color": {"field": "g", "type": "nominal", "scale": {"domain": ["eV", "WT", "mut", "alt"], "range": ["#000000", "#0040ff", "#ff2600", "#008a00"]}, "legend": null}}},
  {"mark": {"type": "circle", "size": 320, "opacity": 1},
   "encoding": {
    "x": {"field": "c", "type": "nominal", "scale": {"type": "point", "padding": 0.71, "align": 0.47, "domain": ["eV","WT IL10RA","p.M1I","p.M1R","p.W33X","p.A36T","p.W45G","p.Y57C","p.L61V","p.Y64C","p.Y64X","p.W69R","p.T84I","p.L90P","p.Y91C","p.V100G","p.R101Q","p.R101W","p.V113I","p.R117C","p.R117H","p.L125R","p.G141R","p.R147GfsX39","p.Y157C","p.R165X","p.I169T","p.F190C","p.G196EfsX10","p.S211F","p.C223R","p.C223S","p.L250SfsX53","p.R262C","p.P295L"]},
          "axis": {"orient": "bottom", "title": null, "labels": true}},
    "y": {"field": "v", "type": "quantitative", "scale": {"domain": [0, 100], "nice": false},
          "axis": {"orient": "left", "title": "pSTAT3 (%)", "titleX": -92, "titleY": 68.5, "titleAngle": 270, "titleAlign": "center", "titleBaseline": "alphabetic", "titleFontSize": 32, "values": [0, 25, 50, 75, 100], "format": "d"}},
    "color": {"field": "g", "type": "nominal", "scale": {"domain": ["eV", "WT", "mut", "alt"], "range": ["#000000", "#0040ff", "#ff2600", "#008a00"]}, "legend": null}}},
  {"transform": [{"filter": "isValid(datum.s)"}],
   "mark": {"type": "text", "angle": 270, "align": "left", "baseline": "middle", "dx": 26, "fontSize": 26, "color": "#000"},
   "encoding": {
    "x": {"field": "c", "type": "nominal", "scale": {"type": "point"}, "axis": null},
    "y": {"datum": 100, "type": "quantitative", "scale": {"domain": [0, 100], "nice": false}, "axis": null},
    "text": {"field": "s"}}}
 ]
},
{"width": 1648, "height": 297, "data": {"values": [{}]}, "mark": {"type": "text", "text": ""}},
{
 "width": 1648, "height": 137,
 "data": {"name": "B1"},
 "resolve": {"axis": {"x": "independent", "y": "independent"}},
 "layer": [
  {"transform": [{"filter": "datum.g == 'eV' || datum.g == 'WT'"}],
   "mark": {"type": "rule", "strokeDash": [6, 3], "strokeWidth": 2},
   "encoding": {
    "y": {"field": "v", "type": "quantitative", "scale": {"domain": [0, 5], "nice": false},
          "axis": {"orient": "left", "labels": false, "ticks": false, "domain": false, "title": "Type I IFN", "titleX": -233, "titleY": 68.5, "titleAngle": 270, "titleAlign": "center", "titleBaseline": "alphabetic", "titleFontSize": 35}},
    "color": {"field": "g", "type": "nominal", "scale": {"domain": ["eV", "WT", "mut", "alt"], "range": ["#000000", "#0040ff", "#ff2600", "#008a00"]}, "legend": null}}},
  {"transform": [{"filter": "isValid(datum.lo)"}],
   "mark": {"type": "rule", "strokeWidth": 1.6, "opacity": 0.6},
   "encoding": {
    "x": {"field": "c", "type": "nominal", "scale": {"type": "point"}, "axis": null},
    "y": {"field": "lo", "type": "quantitative", "scale": {"domain": [0, 5], "nice": false},
          "axis": {"orient": "left", "labels": false, "ticks": false, "domain": false, "title": "B", "titleX": -333.5, "titleY": -88, "titleAngle": 0, "titleAlign": "left", "titleBaseline": "alphabetic", "titleFontSize": 50, "titleFontWeight": "bold"}},
    "y2": {"field": "hi"},
    "color": {"field": "g", "type": "nominal", "scale": {"domain": ["eV", "WT", "mut", "alt"], "range": ["#000000", "#0040ff", "#ff2600", "#008a00"]}, "legend": null}}},
  {"transform": [{"filter": "isValid(datum.lo)"}, {"fold": ["lo", "hi"], "as": ["k", "e"]}],
   "mark": {"type": "tick", "thickness": 1.6, "size": 22, "opacity": 0.6},
   "encoding": {
    "x": {"field": "c", "type": "nominal", "scale": {"type": "point"}, "axis": null},
    "y": {"field": "e", "type": "quantitative", "scale": {"domain": [0, 5], "nice": false}, "axis": null},
    "color": {"field": "g", "type": "nominal", "scale": {"domain": ["eV", "WT", "mut", "alt"], "range": ["#000000", "#0040ff", "#ff2600", "#008a00"]}, "legend": null}}},
  {"mark": {"type": "circle", "size": 320, "opacity": 1},
   "encoding": {
    "x": {"field": "c", "type": "nominal", "scale": {"type": "point", "padding": 0.73, "align": 0.47, "domain": ["eV","WT IL10RA","p.M1I","p.M1R","p.W33X","p.A36T","p.W45G","p.Y57C","p.L61V","p.Y64C","p.Y64X","p.W69R","p.T84I","p.L90P","p.Y91C","p.V100G","p.R101Q","p.R101W","p.V113I","p.R117C","p.R117H","p.L125R","p.G141R","p.R147GfsX39","p.Y157C","p.R165X","p.I169T","p.F190C","p.G196EfsX10","p.S211F","p.C223R","p.C223S","p.L250SfsX53","p.P295L"]},
          "axis": {"orient": "bottom", "title": null, "labels": false}},
    "y": {"field": "v", "type": "quantitative", "scale": {"domain": [0, 5], "nice": false},
          "axis": {"orient": "left", "title": "rMFI", "titleX": -94, "titleY": 68.5, "titleAngle": 270, "titleAlign": "center", "titleBaseline": "alphabetic", "titleFontSize": 32, "values": [0, 1, 2, 3, 4, 5], "format": "d", "labelAngle": 270, "labelAlign": "center", "labelBaseline": "bottom", "labelFontSize": 30, "labelPadding": 4}},
    "color": {"field": "g", "type": "nominal", "scale": {"domain": ["eV", "WT", "mut", "alt"], "range": ["#000000", "#0040ff", "#ff2600", "#008a00"]}, "legend": null}}}
 ]
},
{"width": 1648, "height": 74, "data": {"values": [{}]}, "mark": {"type": "text", "text": ""}},
{
 "width": 1648, "height": 137,
 "data": {"name": "B2"},
 "resolve": {"axis": {"x": "independent", "y": "independent"}},
 "layer": [
  {"transform": [{"filter": "datum.g == 'eV' || datum.g == 'WT'"}],
   "mark": {"type": "rule", "strokeDash": [6, 3], "strokeWidth": 1.6},
   "encoding": {
    "y": {"field": "v", "type": "quantitative", "scale": {"domain": [0, 100], "nice": false},
          "axis": {"orient": "left", "labels": false, "ticks": false, "domain": false, "title": "Type I IFN", "titleX": -233, "titleY": 68.5, "titleAngle": 270, "titleAlign": "center", "titleBaseline": "alphabetic", "titleFontSize": 35}},
    "color": {"field": "g", "type": "nominal", "scale": {"domain": ["eV", "WT", "mut", "alt"], "range": ["#000000", "#0040ff", "#ff2600", "#008a00"]}, "legend": null}}},
  {"transform": [{"filter": "isValid(datum.lo)"}],
   "mark": {"type": "rule", "strokeWidth": 1.6, "opacity": 0.6},
   "encoding": {
    "x": {"field": "c", "type": "nominal", "scale": {"type": "point"}, "axis": null},
    "y": {"field": "lo", "type": "quantitative", "scale": {"domain": [0, 100], "nice": false}, "axis": null},
    "y2": {"field": "hi"},
    "color": {"field": "g", "type": "nominal", "scale": {"domain": ["eV", "WT", "mut", "alt"], "range": ["#000000", "#0040ff", "#ff2600", "#008a00"]}, "legend": null}}},
  {"transform": [{"filter": "isValid(datum.lo)"}, {"fold": ["lo", "hi"], "as": ["k", "e"]}],
   "mark": {"type": "tick", "thickness": 1.6, "size": 22, "opacity": 0.6},
   "encoding": {
    "x": {"field": "c", "type": "nominal", "scale": {"type": "point"}, "axis": null},
    "y": {"field": "e", "type": "quantitative", "scale": {"domain": [0, 100], "nice": false}, "axis": null},
    "color": {"field": "g", "type": "nominal", "scale": {"domain": ["eV", "WT", "mut", "alt"], "range": ["#000000", "#0040ff", "#ff2600", "#008a00"]}, "legend": null}}},
  {"mark": {"type": "circle", "size": 320, "opacity": 1},
   "encoding": {
    "x": {"field": "c", "type": "nominal", "scale": {"type": "point", "padding": 0.71, "align": 0.47, "domain": ["eV","WT IL10RA","p.M1I","p.M1R","p.W33X","p.A36T","p.W45G","p.Y57C","p.L61V","p.Y64C","p.Y64X","p.W69R","p.T84I","p.L90P","p.Y91C","p.V100G","p.R101Q","p.R101W","p.V113I","p.R117C","p.R117H","p.L125R","p.G141R","p.R147GfsX39","p.Y157C","p.R165X","p.I169T","p.F190C","p.G196EfsX10","p.S211F","p.C223R","p.C223S","p.L250SfsX53","p.R262C","p.P295L"]},
          "axis": {"orient": "bottom", "title": null, "labels": true}},
    "y": {"field": "v", "type": "quantitative", "scale": {"domain": [0, 100], "nice": false},
          "axis": {"orient": "left", "title": "pSTAT3 (%)", "titleX": -92, "titleY": 68.5, "titleAngle": 270, "titleAlign": "center", "titleBaseline": "alphabetic", "titleFontSize": 32, "values": [0, 20, 40, 60, 80, 100], "format": "d"}},
    "color": {"field": "g", "type": "nominal", "scale": {"domain": ["eV", "WT", "mut", "alt"], "range": ["#000000", "#0040ff", "#ff2600", "#008a00"]}, "legend": null}}}
 ]
}
]
}
